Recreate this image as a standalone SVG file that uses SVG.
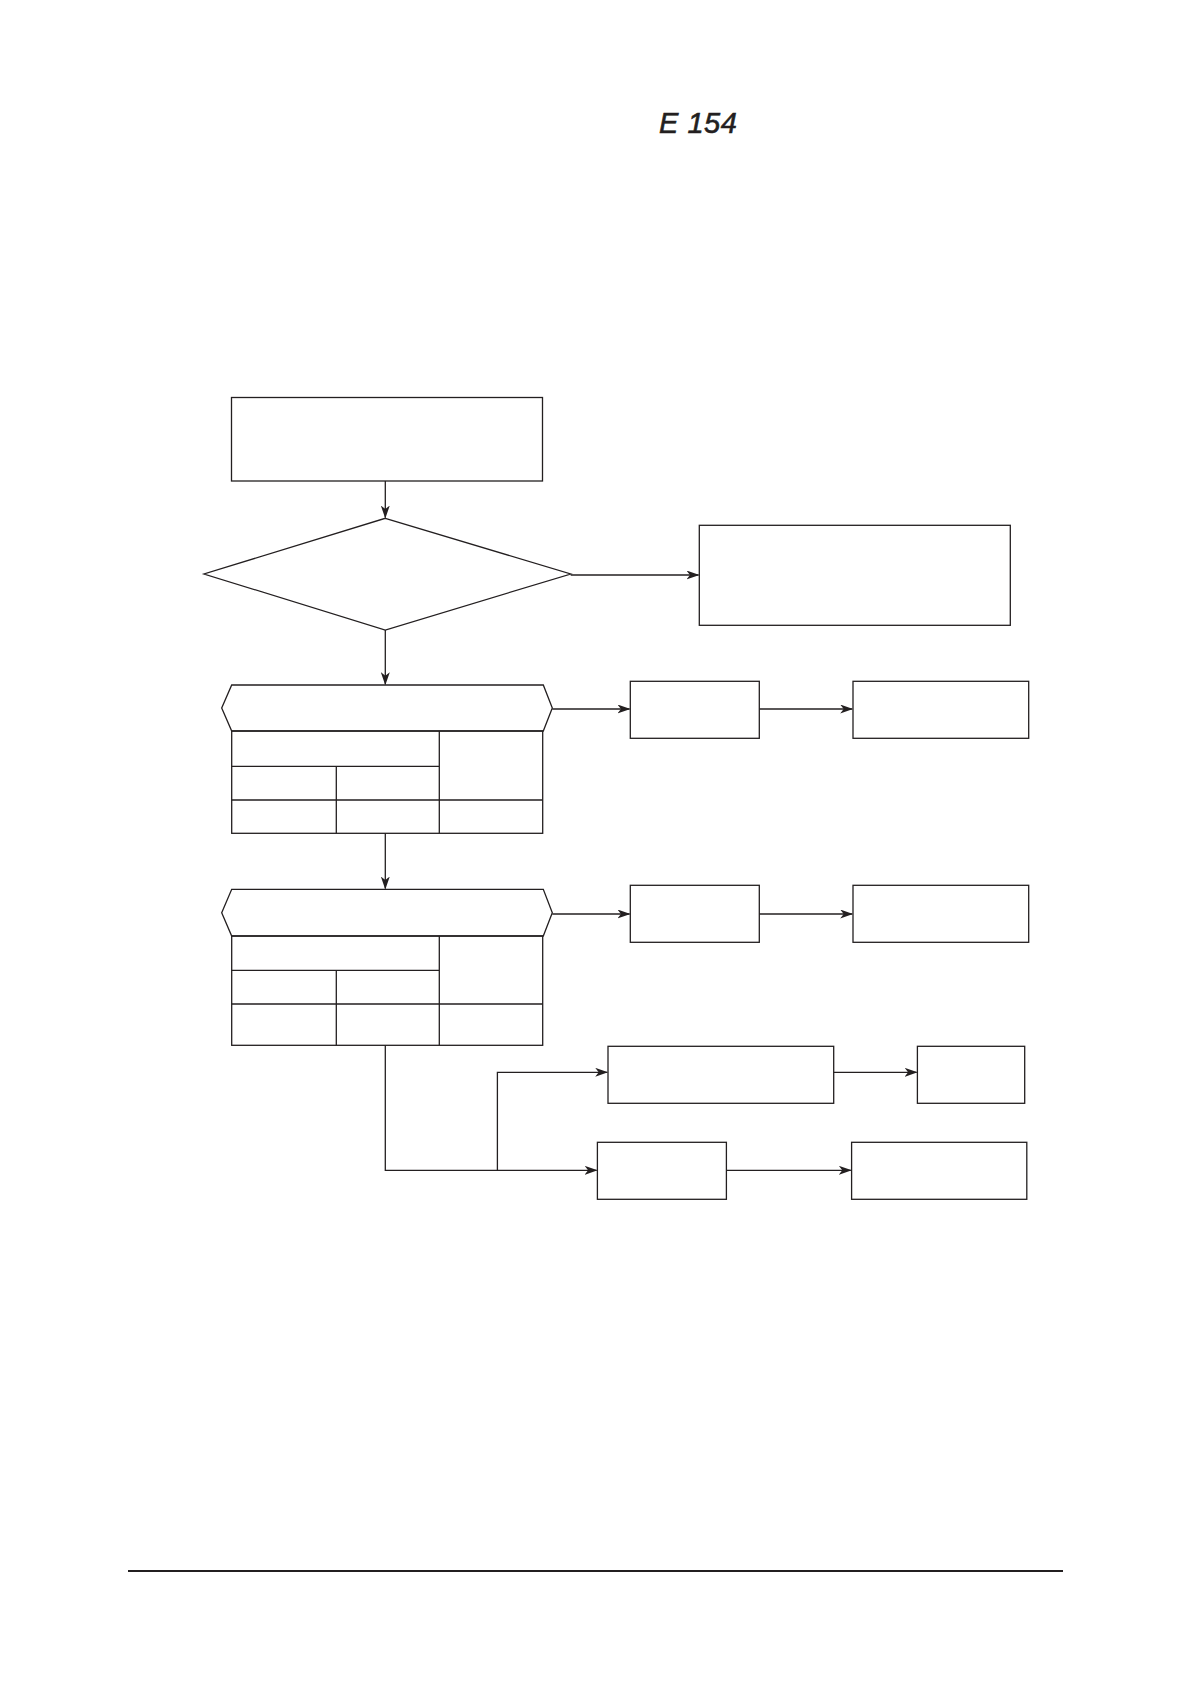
<svg xmlns="http://www.w3.org/2000/svg" width="1191" height="1684" viewBox="0 0 1191 1684">
<style>
.s{fill:none;stroke:#231f20;stroke-width:1.3}
.b{fill:#fff;stroke:#231f20;stroke-width:1.3}
.c{fill:none;stroke:#231f20;stroke-width:1.3}
.t{font-family:"Liberation Sans",Arial,sans-serif;font-style:italic;font-size:29px;fill:#231f20;stroke:#231f20;stroke-width:0.6}
</style>
<defs>
<marker id="ah" markerWidth="13" markerHeight="9" refX="12" refY="4.5" orient="auto" markerUnits="userSpaceOnUse">
<path d="M0,0 L13,4.5 L0,9 L3.5,4.5 z" fill="#231f20"/>
</marker>
</defs>
<rect width="1191" height="1684" fill="#fff"/>
<g id="title"><text class="t" x="659" y="133" letter-spacing="0.5">E 154</text></g>

<g id="n_start"><rect class="b" x="231.5" y="397.5" width="311" height="83.5"/></g>
<g id="n_decision"><polygon class="b" points="385.3,518.3 570.7,574 385.3,630 204,574"/></g>
<g id="n_right1"><rect class="b" x="699.3" y="525.3" width="311" height="100"/></g>

<g id="n_hex1">
<polygon class="b" points="231.7,685 543.3,685 552.3,708 543.3,731 231.7,731 221.7,708"/>
<rect class="s" x="231.7" y="731" width="311" height="102.3"/>
<path class="s" d="M439.3,731 V833.3 M231.7,766.3 H439.3 M231.7,800 H542.7 M336.3,766.3 V833.3"/>
</g>
<g id="n_a1"><rect class="b" x="630.3" y="681.3" width="129" height="57"/></g>
<g id="n_a2"><rect class="b" x="853" y="681.3" width="175.7" height="57"/></g>

<g id="n_hex2">
<polygon class="b" points="231.7,889.3 543.3,889.3 552.3,912.7 543.3,936 231.7,936 221.7,912.7"/>
<rect class="s" x="231.7" y="936" width="311" height="109.3"/>
<path class="s" d="M439.3,936 V1045.3 M231.7,970.3 H439.3 M231.7,1004 H542.7 M336.3,970.3 V1045.3"/>
</g>
<g id="n_b1"><rect class="b" x="630.3" y="885.3" width="129" height="57"/></g>
<g id="n_b2"><rect class="b" x="853" y="885.3" width="175.7" height="57"/></g>

<g id="n_c1"><rect class="b" x="608" y="1046.3" width="225.7" height="57"/></g>
<g id="n_c2"><rect class="b" x="917.4" y="1046.3" width="107.3" height="57"/></g>
<g id="n_d1"><rect class="b" x="597.4" y="1142.3" width="129" height="57"/></g>
<g id="n_d2"><rect class="b" x="851.6" y="1142.3" width="175.2" height="57"/></g>

<g id="connectors">
<path class="c" d="M385.3,481 V517.5" marker-end="url(#ah)"/>
<path class="c" d="M570.7,575 H698.5" marker-end="url(#ah)"/>
<path class="c" d="M385.3,630 V684.2" marker-end="url(#ah)"/>
<path class="c" d="M552.3,709 H629.5" marker-end="url(#ah)"/>
<path class="c" d="M759.3,709 H852.2" marker-end="url(#ah)"/>
<path class="c" d="M385.3,833.3 V888.5" marker-end="url(#ah)"/>
<path class="c" d="M552.3,914 H629.5" marker-end="url(#ah)"/>
<path class="c" d="M759.3,914 H852.2" marker-end="url(#ah)"/>
<path class="c" d="M385.3,1045.3 V1170.3 H596.6" marker-end="url(#ah)"/>
<path class="c" d="M497.4,1170.3 V1072.3 H607.2" marker-end="url(#ah)"/>
<path class="c" d="M833.7,1072.3 H916.6" marker-end="url(#ah)"/>
<path class="c" d="M726.4,1170.3 H850.8" marker-end="url(#ah)"/>
</g>
<line x1="128" y1="1571" x2="1063" y2="1571" stroke="#231f20" stroke-width="2"/>
</svg>
